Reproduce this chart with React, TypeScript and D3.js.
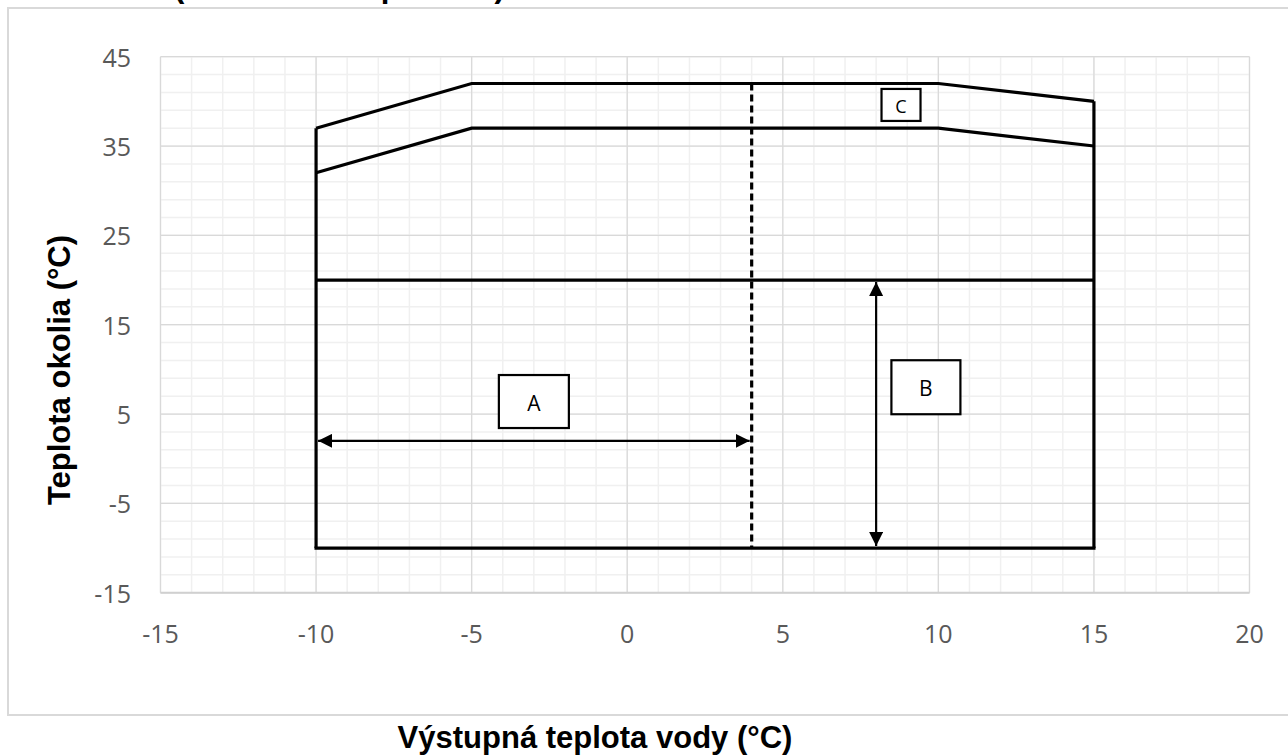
import * as d3 from "d3";

// operating envelope (x = leaving water temp, y = ambient temp)
const upperX = [-10, -5, 10, 15];
const upperY = [37, 42, 42, 40];
const lowerY = [32, 37, 37, 35];
const envLeft = -10;
const envRight = 15;
const envMid = 20;
const envBottom = -10;
const dashX = 4;
const arrowAY = 2;
const arrowBX = 8;

const xTicks = [-15, -10, -5, 0, 5, 10, 15, 20];
const yTicks = [-15, -5, 5, 15, 25, 35, 45];

const boxLabels = ["A", "B", "C"];
const boxX = [-3, 9.6, 8.8];
const boxY = [6.4, 8, 39.6];

const title = "VCU (Standardná aplikácia)";
const xTitle = "Výstupná teplota vody (°C)";
const yTitle = "Teplota okolia (°C)";

const W = 1288;
const H = 756;

export default function App() {
  const x = d3.scaleLinear().domain([-15, 20]).range([160.5, 1249.5]);
  const y = d3.scaleLinear().domain([-15, 45]).range([592.7, 56.7]);

  const minorX = d3.range(-15, 20.01, 1);
  const minorY = d3.range(-15, 45.01, 2);

  const upperPath = d3.line<number>().x((_, i) => x(upperX[i])).y((d) => y(d))(upperY);
  const lowerPath = d3.line<number>().x((_, i) => x(upperX[i])).y((d) => y(d))(lowerY);

  const boxW = [70, 69, 39];
  const boxH = [53, 54, 32];
  const boxFont = [21, 21, 18];

  return (
    <svg width={W} height={H} style={{ position: "absolute", left: 0, top: 0, display: "block" }}>
      <defs>
        <marker id="ah" viewBox="0 0 14 14" refX="14" refY="7" markerWidth="14" markerHeight="14"
          markerUnits="userSpaceOnUse" orient="auto-start-reverse">
          <path d="M0,0 L14,7 L0,14 Z" fill="#000" />
        </marker>
      </defs>
      <rect x={0} y={0} width={W} height={H} fill="#fff" />
      <text x={100} y={-3} fontFamily="Liberation Sans, Arial, sans-serif" fontWeight="bold" fontSize={31}>{title}</text>
      <rect x={8} y={8} width={W + 10} height={707} fill="#fff" stroke="#d9d9d9" strokeWidth={2} />

      {/* grid */}
      <g>
        {minorX.map((v) => (
          <line key={"mx" + v} x1={x(v)} x2={x(v)} y1={y(-15)} y2={y(45)} stroke="#f0f0f0" strokeWidth={1.5} />
        ))}
        {minorY.map((v) => (
          <line key={"my" + v} x1={x(-15)} x2={x(20)} y1={y(v)} y2={y(v)} stroke="#f0f0f0" strokeWidth={1.5} />
        ))}
        {xTicks.map((v) => (
          <line key={"gx" + v} x1={x(v)} x2={x(v)} y1={y(-15)} y2={y(45)} stroke="#d9d9d9" strokeWidth={1.2} />
        ))}
        {yTicks.map((v) => (
          <line key={"gy" + v} x1={x(-15)} x2={x(20)} y1={y(v)} y2={y(v)} stroke="#d9d9d9" strokeWidth={1.2} />
        ))}
        <line x1={x(-15)} x2={x(20)} y1={y(-15)} y2={y(-15)} stroke="#d0d0d0" strokeWidth={2} />
      </g>

      {/* tick labels */}
      <g fontFamily="Open Sans, sans-serif" fontSize={25} fill="#595959">
        {xTicks.map((v) => (
          <text key={"tx" + v} x={x(v)} y={633} textAnchor="middle" dominantBaseline="central">{v}</text>
        ))}
        {yTicks.map((v) => (
          <text key={"ty" + v} x={131} y={y(v)} textAnchor="end" dominantBaseline="central">{v}</text>
        ))}
      </g>

      {/* envelope */}
      <g fill="none" stroke="#000" strokeWidth={3.2}>
        <path d={upperPath ?? ""} />
        <path d={lowerPath ?? ""} />
        <line x1={x(envLeft)} x2={x(envLeft)} y1={y(upperY[0])} y2={y(envBottom)} />
        <line x1={x(envRight)} x2={x(envRight)} y1={y(upperY[3])} y2={y(envBottom)} />
        <line x1={x(envLeft)} x2={x(envRight)} y1={y(envMid)} y2={y(envMid)} />
        <line x1={x(envLeft)} x2={x(envRight)} y1={y(envBottom)} y2={y(envBottom)} strokeLinecap="square" />
        <line x1={x(dashX)} x2={x(dashX)} y1={y(42)} y2={y(envBottom)} strokeDasharray="7,4" />
      </g>

      {/* arrows */}
      <g stroke="#000" strokeWidth={2.2}>
        <line x1={x(envLeft) + 2} x2={x(dashX) - 2} y1={y(arrowAY)} y2={y(arrowAY)}
          markerStart="url(#ah)" markerEnd="url(#ah)" />
        <line x1={x(arrowBX)} x2={x(arrowBX)} y1={y(envMid) + 2} y2={y(envBottom) - 2}
          markerStart="url(#ah)" markerEnd="url(#ah)" />
      </g>

      {/* labels */}
      {boxLabels.map((t, i) => (
        <g key={t}>
          <rect x={x(boxX[i]) - boxW[i] / 2} y={y(boxY[i]) - boxH[i] / 2} width={boxW[i]} height={boxH[i]}
            fill="#fff" stroke="#000" strokeWidth={2.2} />
          <text x={x(boxX[i])} y={y(boxY[i]) + 1} textAnchor="middle" dominantBaseline="central"
            fontFamily="Open Sans, sans-serif" fontSize={boxFont[i]} fill="#000">{t}</text>
        </g>
      ))}

      {/* axis titles */}
      <text x={595} y={737} textAnchor="middle" dominantBaseline="central"
        fontFamily="Liberation Sans, Arial, sans-serif" fontWeight="bold" fontSize={31}>{xTitle}</text>
      <text transform={`translate(59,370) rotate(-90)`} textAnchor="middle" dominantBaseline="central"
        fontFamily="Liberation Sans, Arial, sans-serif" fontWeight="bold" fontSize={31}>{yTitle}</text>
    </svg>
  );
}
